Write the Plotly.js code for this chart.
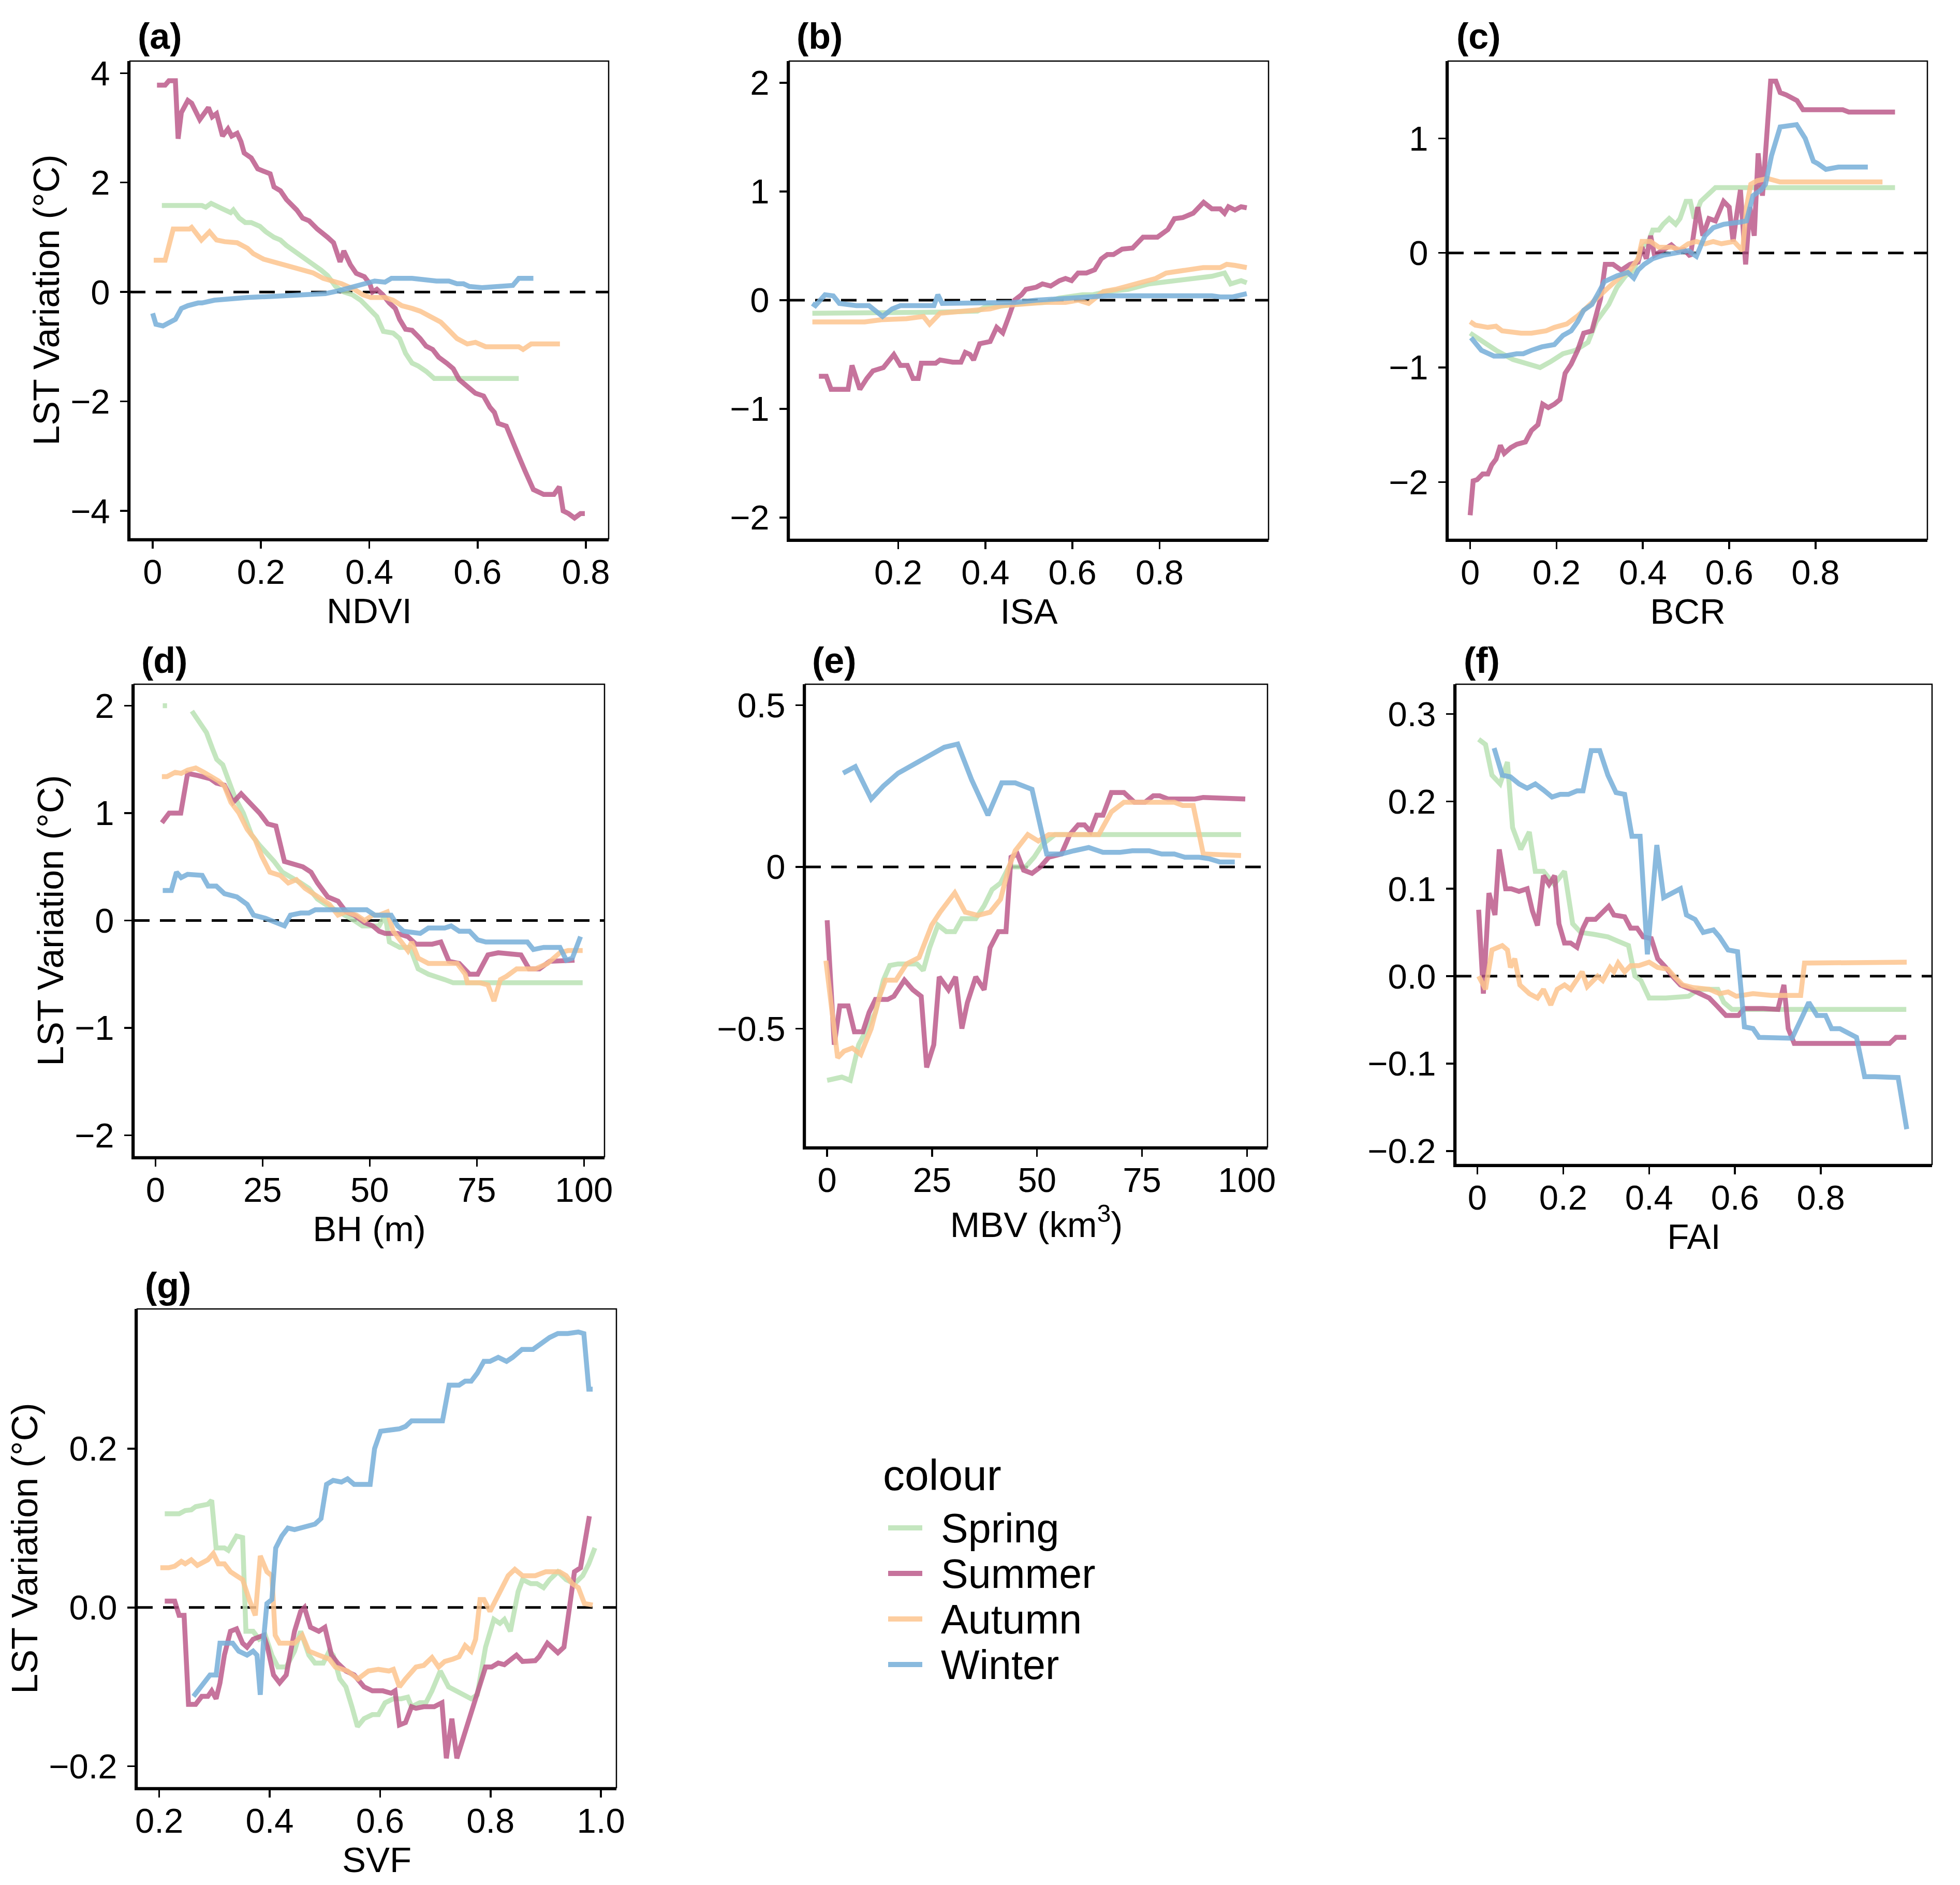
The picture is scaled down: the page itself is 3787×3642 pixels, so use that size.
<!DOCTYPE html>
<html>
<head>
<meta charset="utf-8">
<script src="https://cdn.plot.ly/plotly-3.0.1.min.js"></script>
<style>html,body{margin:0;padding:0;background:#fff;}#chart{width:3787px;height:3642px;}</style>
</head>
<body>
<div id="chart"></div>
<script>
// ---------------- DATA ----------------
const seasons = ["Spring", "Summer", "Autumn", "Winter"];

// (a) NDVI
const ndviSpringX = [0.017,0.091,0.098,0.108,0.129,0.144,0.149,0.16,0.171,0.182,0.198,0.209,0.224,0.236,0.247,0.262,0.277,0.296,0.311,0.323,0.338,0.353,0.369,0.384,0.403,0.414,0.426,0.444,0.456,0.467,0.479,0.49,0.505,0.52,0.676];
const ndviSpringY = [1.58,1.58,1.55,1.62,1.52,1.45,1.5,1.35,1.27,1.27,1.2,1.1,1.0,0.95,0.85,0.75,0.65,0.5,0.4,0.3,0.1,0,-0.05,-0.15,-0.35,-0.45,-0.72,-0.75,-0.85,-1.12,-1.3,-1.35,-1.45,-1.58,-1.58];
const ndviSummerX = [0.008,0.023,0.03,0.042,0.047,0.053,0.065,0.072,0.087,0.103,0.11,0.118,0.129,0.139,0.146,0.156,0.163,0.169,0.182,0.194,0.217,0.224,0.236,0.247,0.266,0.277,0.289,0.304,0.323,0.334,0.346,0.353,0.365,0.376,0.391,0.401,0.406,0.414,0.425,0.437,0.448,0.456,0.467,0.479,0.494,0.505,0.517,0.528,0.543,0.555,0.566,0.577,0.596,0.611,0.623,0.631,0.638,0.653,0.665,0.676,0.688,0.703,0.722,0.741,0.751,0.758,0.768,0.779,0.79,0.798];
const ndviSummerY = [3.78,3.78,3.86,3.86,2.8,3.28,3.5,3.45,3.15,3.37,3.2,3.26,2.85,2.98,2.85,2.9,2.75,2.54,2.45,2.25,2.16,1.92,1.85,1.69,1.5,1.35,1.3,1.15,1.0,0.9,0.55,0.75,0.5,0.34,0.28,0.15,0.0,0.05,-0.05,-0.2,-0.3,-0.5,-0.68,-0.7,-0.85,-0.99,-1.05,-1.19,-1.3,-1.4,-1.6,-1.7,-1.85,-1.9,-2.11,-2.2,-2.4,-2.45,-2.77,-3.0,-3.28,-3.61,-3.7,-3.7,-3.56,-4.0,-4.05,-4.13,-4.05,-4.05];
const ndviAutumnX = [0.002,0.023,0.038,0.068,0.072,0.09,0.105,0.118,0.133,0.156,0.175,0.186,0.205,0.224,0.243,0.258,0.281,0.296,0.315,0.334,0.349,0.372,0.388,0.403,0.429,0.444,0.46,0.479,0.494,0.513,0.532,0.547,0.562,0.581,0.596,0.615,0.676,0.684,0.699,0.752];
const ndviAutumnY = [0.58,0.58,1.15,1.15,1.18,0.95,1.1,0.95,0.92,0.9,0.8,0.7,0.6,0.55,0.5,0.45,0.4,0.35,0.25,0.2,0.15,0.05,-0.05,-0.1,-0.1,-0.15,-0.25,-0.3,-0.35,-0.45,-0.55,-0.7,-0.85,-0.95,-0.92,-1.0,-1.0,-1.05,-0.95,-0.95];
const ndviWinterX = [0,0.006,0.019,0.032,0.042,0.053,0.065,0.084,0.091,0.114,0.144,0.175,0.22,0.281,0.319,0.342,0.365,0.388,0.41,0.429,0.441,0.479,0.524,0.547,0.562,0.574,0.585,0.608,0.638,0.665,0.676,0.703];
const ndviWinterY = [-0.39,-0.59,-0.62,-0.55,-0.5,-0.3,-0.25,-0.2,-0.2,-0.15,-0.12,-0.1,-0.08,-0.05,-0.03,0.02,0.08,0.15,0.2,0.18,0.25,0.25,0.2,0.2,0.15,0.15,0.1,0.08,0.1,0.12,0.25,0.25];

// (b) ISA
const isaSpringX = [0.003,0.2,0.296,0.382,0.406,0.421,0.488,0.536,0.57,0.623,0.647,0.68,0.728,0.776,0.834,0.891,0.92,0.949,0.963,0.987,1.0];
const isaSpringY = [-0.12,-0.12,-0.11,-0.1,-0.05,-0.06,-0.03,-0.02,0.02,0.05,0.05,0.08,0.1,0.15,0.18,0.2,0.22,0.25,0.15,0.18,0.16];
const isaSummerX = [0.018,0.035,0.046,0.085,0.094,0.112,0.128,0.142,0.166,0.19,0.205,0.221,0.234,0.246,0.253,0.286,0.296,0.325,0.344,0.354,0.365,0.373,0.387,0.411,0.426,0.44,0.454,0.467,0.483,0.493,0.517,0.531,0.55,0.57,0.584,0.598,0.613,0.632,0.651,0.666,0.68,0.694,0.714,0.738,0.762,0.795,0.819,0.834,0.853,0.877,0.901,0.92,0.939,0.949,0.958,0.973,0.987,1.0];
const isaSummerY = [-0.7,-0.7,-0.82,-0.82,-0.6,-0.82,-0.72,-0.65,-0.62,-0.5,-0.6,-0.6,-0.72,-0.72,-0.58,-0.58,-0.55,-0.57,-0.57,-0.48,-0.5,-0.55,-0.4,-0.38,-0.25,-0.3,-0.15,0.0,0.05,0.1,0.12,0.15,0.13,0.18,0.2,0.18,0.25,0.25,0.28,0.38,0.42,0.42,0.47,0.48,0.58,0.58,0.65,0.75,0.76,0.8,0.9,0.84,0.84,0.8,0.86,0.83,0.86,0.85];
const isaAutumnX = [0.003,0.123,0.161,0.219,0.258,0.272,0.296,0.354,0.382,0.411,0.44,0.488,0.536,0.584,0.613,0.637,0.671,0.699,0.747,0.791,0.815,0.853,0.9,0.939,0.954,0.973,1.0];
const isaAutumnY = [-0.2,-0.2,-0.18,-0.17,-0.15,-0.22,-0.12,-0.1,-0.1,-0.08,-0.05,-0.03,-0.02,-0.02,0.0,-0.03,0.08,0.1,0.15,0.2,0.25,0.27,0.3,0.3,0.33,0.32,0.3];
const isaWinterX = [0.003,0.01,0.032,0.051,0.065,0.104,0.133,0.157,0.164,0.186,0.205,0.282,0.291,0.301,0.392,0.469,0.517,0.584,0.642,0.68,0.92,0.939,0.968,1.0];
const isaWinterY = [-0.03,-0.05,0.05,0.04,-0.03,-0.05,-0.05,-0.12,-0.15,-0.08,-0.05,-0.05,0.05,-0.03,-0.03,-0.02,0.0,0.02,0.03,0.04,0.04,0.03,0.03,0.06];

// (c) BCR
const bcrSpringX = [0,0.021,0.06,0.099,0.137,0.162,0.186,0.215,0.244,0.273,0.292,0.321,0.34,0.36,0.379,0.389,0.398,0.413,0.423,0.437,0.447,0.461,0.476,0.486,0.5,0.51,0.519,0.534,0.548,0.568,0.984];
const bcrSpringY = [-0.7,-0.75,-0.85,-0.93,-0.97,-1.0,-0.95,-0.88,-0.85,-0.78,-0.6,-0.45,-0.3,-0.2,-0.15,-0.05,0.05,0.1,0.2,0.2,0.25,0.3,0.25,0.3,0.45,0.45,0.3,0.45,0.5,0.57,0.57];
const bcrSummerX = [0,0.007,0.016,0.029,0.041,0.05,0.06,0.07,0.079,0.094,0.108,0.128,0.142,0.157,0.168,0.181,0.195,0.208,0.22,0.234,0.249,0.263,0.282,0.292,0.302,0.313,0.331,0.35,0.37,0.389,0.398,0.408,0.418,0.427,0.447,0.466,0.481,0.495,0.51,0.527,0.539,0.553,0.568,0.587,0.6,0.609,0.616,0.626,0.638,0.648,0.658,0.667,0.677,0.684,0.696,0.708,0.718,0.732,0.747,0.757,0.771,0.863,0.877,0.984];
const bcrSummerY = [-2.29,-1.99,-1.98,-1.93,-1.93,-1.85,-1.8,-1.68,-1.75,-1.7,-1.67,-1.65,-1.55,-1.5,-1.32,-1.35,-1.32,-1.28,-1.05,-0.97,-0.85,-0.7,-0.68,-0.55,-0.4,-0.1,-0.1,-0.15,-0.1,-0.08,0.05,-0.05,0.15,-0.02,0.02,0.07,0.02,0.03,-0.03,0.4,0.15,0.3,0.28,0.45,0.4,0.1,0.3,0.55,-0.1,0.4,0.15,0.87,0.5,0.9,1.5,1.5,1.4,1.38,1.35,1.33,1.25,1.25,1.23,1.23];
const bcrAutumnX = [0,0.012,0.041,0.06,0.074,0.118,0.142,0.176,0.195,0.224,0.249,0.268,0.292,0.321,0.35,0.37,0.389,0.398,0.418,0.437,0.466,0.486,0.505,0.524,0.544,0.563,0.582,0.611,0.631,0.64,0.65,0.664,0.689,0.718,0.955];
const bcrAutumnY = [-0.6,-0.63,-0.65,-0.64,-0.68,-0.7,-0.7,-0.68,-0.65,-0.62,-0.55,-0.48,-0.4,-0.3,-0.2,-0.15,-0.05,0.1,0.1,0.05,0.05,0.03,0.08,0.1,0.08,0.1,0.08,0.1,0.02,0.4,0.6,0.63,0.65,0.62,0.62];
const bcrWinterX = [0.002,0.012,0.026,0.055,0.079,0.108,0.123,0.142,0.166,0.195,0.215,0.234,0.249,0.263,0.282,0.297,0.311,0.34,0.365,0.379,0.389,0.403,0.423,0.447,0.476,0.505,0.524,0.544,0.563,0.587,0.626,0.64,0.655,0.674,0.684,0.698,0.718,0.756,0.776,0.795,0.805,0.824,0.853,0.921];
const bcrWinterY = [-0.74,-0.78,-0.85,-0.9,-0.9,-0.88,-0.88,-0.85,-0.82,-0.8,-0.72,-0.68,-0.6,-0.5,-0.45,-0.35,-0.25,-0.2,-0.17,-0.22,-0.15,-0.1,-0.05,-0.02,0.0,0.02,-0.03,0.15,0.22,0.25,0.27,0.28,0.5,0.55,0.6,0.85,1.1,1.12,1.0,0.8,0.78,0.73,0.75,0.75];

// (d) BH (m)
const bhSpringX = [1.7,2.7,5.5,8.5,10.9,11.9,13.3,14.3,15.7,17.1,18.5,20.5,22.4,24.3,26.2,27.7,29.6,32,33.9,35.8,37.8,39.7,42.1,44.5,46.4,48.3,52.2,53.6,54.6,57,59.4,61.3,63.7,67.5,69.5,99.7];
const bhSpringY = [2.0,2.0,null,1.95,1.8,1.75,1.6,1.5,1.45,1.3,1.15,1.0,0.8,0.7,0.62,0.55,0.45,0.4,0.35,0.3,0.2,0.15,0.1,0.05,0.0,-0.05,-0.05,0.05,-0.2,-0.25,-0.25,-0.45,-0.5,-0.55,-0.58,-0.58];
const bhSummerX = [1.5,3.2,5.9,7.5,9.9,12.8,14.2,16.1,18.1,20,21.9,24.3,26.2,28.1,30.1,32.5,34.4,36.3,37.8,40.2,42.6,44.5,46.4,48.8,50.7,52.2,53.6,56.5,58.9,60.8,64.6,66.6,68.5,70.9,73.3,75.2,77.6,80,85.3,87.2,89.6,92,95.4,97.8];
const bhSummerY = [0.91,1.0,1.0,1.37,1.35,1.32,1.28,1.26,1.1,1.18,1.1,1.0,0.9,0.88,0.55,0.52,0.5,0.45,0.35,0.22,0.18,0.08,0.05,-0.02,-0.05,-0.1,-0.12,-0.12,-0.15,-0.22,-0.22,-0.2,-0.38,-0.4,-0.5,-0.5,-0.32,-0.3,-0.32,-0.45,-0.45,-0.38,-0.37,-0.37];
const bhAutumnX = [1.5,2.7,4.6,6,7.5,9.4,11.3,12.8,14.7,16.1,17.6,19.5,21.4,23.3,24.8,26.7,29.1,31,32.9,34.9,36.8,38.7,40.6,42.6,44.5,46.9,48.8,50.7,52.2,54.1,55.5,57.4,58.9,59.8,61.3,63.7,70.4,72.3,72.8,75.7,77.6,79,80.5,81.9,84.3,88.7,91.5,94.4,96.3,99.7];
const bhAutumnY = [1.34,1.34,1.38,1.37,1.4,1.42,1.38,1.35,1.3,1.25,1.1,1.0,0.85,0.75,0.6,0.45,0.42,0.35,0.38,0.3,0.25,0.2,0.15,0.05,0.08,0.05,0.0,0.05,0.05,0.08,-0.1,-0.2,-0.28,-0.2,-0.35,-0.4,-0.4,-0.5,-0.58,-0.58,-0.6,-0.75,-0.55,-0.52,-0.45,-0.45,-0.4,-0.3,-0.28,-0.28];
const bhWinterX = [1.7,3.7,4.9,6,7.5,10.9,12.3,14.2,16.1,19,21.4,22.9,25.7,27.2,28.6,30.1,31.5,33.9,35.8,37.3,43.5,49.3,51.2,55,56.5,57.9,61.8,63.7,67.5,69,70.9,73.3,75.2,77.1,86.8,88.2,90.6,94.4,95.9,97.3,99.2];
const bhWinterY = [0.28,0.28,0.45,0.4,0.43,0.42,0.32,0.32,0.25,0.22,0.15,0.05,0.02,0.0,-0.02,-0.05,0.05,0.07,0.07,0.1,0.1,0.1,0.05,0.05,-0.05,-0.1,-0.12,-0.07,-0.07,-0.05,-0.1,-0.1,-0.18,-0.2,-0.2,-0.27,-0.25,-0.25,-0.37,-0.35,-0.15];

// (e) MBV (km^3)
const mbvSpringX = [0,3.5,5.5,7.5,9.5,11.5,13.4,14.9,16.9,19.4,21.4,22.9,24.4,26.4,28.4,30.4,32.1,35.4,37.4,39.3,41.3,43.3,47.3,49.3,51.3,54.3,98.6];
const mbvSpringY = [-0.66,-0.65,-0.66,-0.55,-0.5,-0.45,-0.35,-0.305,-0.3,-0.3,-0.3,-0.32,-0.25,-0.18,-0.2,-0.2,-0.16,-0.16,-0.12,-0.07,-0.05,0.0,0.0,0.03,0.07,0.1,0.1];
const mbvSummerX = [0,1.7,3,5,6.5,8.5,10,11.5,14.4,15.9,18.4,20.4,22.4,23.7,25.4,26.7,28.9,30.6,32.1,33.4,35.4,37.4,38.8,40.8,42.6,43.8,45.3,46.8,48.8,50.8,52.8,55.8,57.8,59.8,61.3,62.7,64.2,65.7,67.7,70.7,73.2,75.7,77.7,79.2,81.2,87.6,89.6,99.6];
const mbvSummerY = [-0.165,-0.55,-0.43,-0.43,-0.51,-0.51,-0.45,-0.41,-0.41,-0.4,-0.35,-0.38,-0.4,-0.62,-0.55,-0.34,-0.38,-0.34,-0.5,-0.42,-0.34,-0.38,-0.25,-0.2,-0.2,0.03,0.04,-0.01,-0.02,0.0,0.03,0.04,0.1,0.13,0.13,0.11,0.16,0.16,0.23,0.23,0.2,0.2,0.22,0.22,0.21,0.21,0.215,0.21];
const mbvAutumnX = [-0.3,2.5,4,6,8,10.5,12.5,13.9,16.4,18.9,21.9,24.9,26.9,30.4,32.9,35.9,38.8,41.3,43.3,44.8,47.8,50.3,52.8,64.7,67.7,70.7,82.7,84.7,87.2,89.6,98.6];
const mbvAutumnY = [-0.29,-0.59,-0.57,-0.56,-0.58,-0.5,-0.4,-0.35,-0.35,-0.3,-0.28,-0.18,-0.14,-0.08,-0.14,-0.15,-0.14,-0.1,0.0,0.05,0.1,0.08,0.1,0.1,0.17,0.2,0.2,0.19,0.19,0.04,0.035];
const mbvWinterX = [3.8,6.7,10.5,13.4,16.9,20.9,24.9,27.9,31.1,34.4,38.3,41.6,44.8,48.8,52.3,55.8,58.8,62.3,65.7,69.7,72.7,76.7,79.7,82.7,85.2,88.6,91.1,93.6,97.1];
const mbvWinterY = [0.29,0.31,0.21,0.25,0.29,0.32,0.35,0.37,0.38,0.27,0.16,0.26,0.26,0.24,0.04,0.04,0.05,0.06,0.045,0.045,0.05,0.05,0.04,0.04,0.03,0.03,0.025,0.015,0.015];

// (f) FAI
const faiSpringX = [0.003,0.019,0.034,0.053,0.07,0.082,0.101,0.121,0.135,0.154,0.179,0.203,0.222,0.241,0.27,0.304,0.328,0.352,0.367,0.381,0.4,0.439,0.492,0.516,0.56,0.574,0.593,0.999];
const faiSpringY = [0.271,0.265,0.23,0.22,0.245,0.17,0.145,0.165,0.12,0.12,0.105,0.12,0.06,0.05,0.048,0.045,0.04,0.035,0.0,-0.005,-0.025,-0.025,-0.023,-0.015,-0.015,-0.03,-0.038,-0.038];
const faiSummerX = [0.003,0.014,0.027,0.041,0.051,0.066,0.079,0.097,0.116,0.128,0.14,0.154,0.167,0.18,0.19,0.203,0.217,0.232,0.246,0.256,0.275,0.294,0.306,0.318,0.343,0.357,0.372,0.386,0.405,0.42,0.439,0.454,0.473,0.497,0.521,0.54,0.56,0.579,0.608,0.622,0.666,0.7,0.714,0.724,0.738,0.96,0.975,0.999];
const faiSummerY = [0.076,-0.02,0.095,0.07,0.145,0.1,0.1,0.097,0.1,0.075,0.058,0.115,0.105,0.115,0.06,0.038,0.038,0.033,0.055,0.065,0.065,0.075,0.08,0.07,0.068,0.055,0.055,0.045,0.043,0.02,0.01,0.0,-0.01,-0.015,-0.02,-0.025,-0.035,-0.045,-0.045,-0.037,-0.037,-0.038,-0.01,-0.06,-0.077,-0.077,-0.07,-0.07];
const faiAutumnX = [0.003,0.019,0.034,0.058,0.07,0.077,0.087,0.099,0.121,0.14,0.154,0.171,0.186,0.203,0.217,0.244,0.256,0.28,0.292,0.309,0.318,0.328,0.343,0.357,0.376,0.4,0.42,0.444,0.458,0.478,0.502,0.54,0.564,0.584,0.603,0.642,0.685,0.753,0.762,0.854,1.0];
const faiAutumnY = [0.0,-0.015,0.03,0.035,0.03,0.01,0.02,-0.01,-0.02,-0.025,-0.015,-0.033,-0.015,-0.01,-0.015,0.005,-0.012,0.0,-0.005,0.01,0.005,0.015,0.005,0.012,0.012,0.016,0.01,0.008,0.0,-0.01,-0.013,-0.015,-0.02,-0.018,-0.023,-0.02,-0.022,-0.022,0.015,0.015,0.016];
const faiWinterX = [0.039,0.058,0.077,0.097,0.116,0.135,0.154,0.174,0.193,0.212,0.232,0.246,0.265,0.285,0.304,0.323,0.343,0.36,0.379,0.396,0.418,0.434,0.473,0.487,0.507,0.526,0.55,0.564,0.584,0.606,0.622,0.642,0.656,0.695,0.733,0.758,0.772,0.791,0.811,0.825,0.844,0.883,0.902,0.926,0.98,1.0];
const faiWinterY = [0.261,0.23,0.228,0.22,0.215,0.22,0.213,0.205,0.208,0.208,0.212,0.212,0.258,0.258,0.23,0.21,0.208,0.16,0.16,0.025,0.15,0.09,0.1,0.07,0.065,0.05,0.053,0.045,0.03,0.028,-0.058,-0.06,-0.07,-0.07,-0.071,-0.045,-0.03,-0.045,-0.045,-0.06,-0.06,-0.07,-0.115,-0.115,-0.116,-0.175];

// (g) SVF
const svfSpringX = [0.21,0.236,0.247,0.258,0.266,0.288,0.295,0.303,0.318,0.325,0.34,0.351,0.357,0.37,0.381,0.392,0.404,0.415,0.43,0.445,0.456,0.471,0.482,0.497,0.508,0.515,0.527,0.538,0.549,0.559,0.571,0.586,0.597,0.609,0.624,0.638,0.65,0.657,0.672,0.683,0.694,0.709,0.724,0.739,0.754,0.765,0.776,0.791,0.806,0.817,0.825,0.836,0.85,0.858,0.873,0.884,0.896,0.907,0.922,0.937,0.952,0.967,0.978,0.989];
const svfSpringY = [0.118,0.118,0.122,0.123,0.127,0.13,0.135,0.075,0.075,0.072,0.09,0.088,-0.03,-0.03,-0.04,-0.035,-0.06,-0.075,-0.075,-0.055,-0.03,-0.06,-0.07,-0.07,-0.055,-0.06,-0.09,-0.1,-0.125,-0.15,-0.14,-0.135,-0.135,-0.12,-0.115,-0.115,-0.113,-0.125,-0.12,-0.12,-0.105,-0.08,-0.1,-0.105,-0.11,-0.115,-0.11,-0.05,-0.015,-0.02,-0.015,-0.03,0.02,0.035,0.03,0.03,0.025,0.035,0.045,0.035,0.03,0.04,0.055,0.075];
const svfSummerX = [0.21,0.228,0.236,0.245,0.253,0.266,0.277,0.288,0.295,0.303,0.31,0.318,0.329,0.34,0.351,0.359,0.37,0.389,0.396,0.407,0.418,0.43,0.445,0.456,0.463,0.474,0.489,0.5,0.512,0.523,0.538,0.553,0.571,0.586,0.605,0.62,0.627,0.635,0.646,0.657,0.665,0.679,0.698,0.712,0.72,0.73,0.739,0.75,0.761,0.776,0.791,0.802,0.814,0.825,0.836,0.847,0.858,0.881,0.888,0.903,0.911,0.922,0.933,0.943,0.952,0.963,0.97,0.979];
const svfSummerY = [0.008,0.008,-0.01,-0.01,-0.122,-0.122,-0.112,-0.112,-0.105,-0.115,-0.095,-0.06,-0.03,-0.027,-0.045,-0.05,-0.04,-0.035,-0.05,-0.085,-0.095,-0.085,-0.03,-0.005,0.0,-0.025,-0.03,-0.025,-0.06,-0.07,-0.08,-0.085,-0.1,-0.105,-0.105,-0.108,-0.105,-0.148,-0.145,-0.125,-0.127,-0.125,-0.125,-0.12,-0.19,-0.14,-0.19,-0.165,-0.145,-0.11,-0.075,-0.075,-0.07,-0.072,-0.065,-0.06,-0.068,-0.067,-0.062,-0.045,-0.05,-0.057,-0.05,0.0,0.045,0.05,0.08,0.115];
const svfAutumnX = [0.202,0.217,0.228,0.24,0.247,0.258,0.269,0.281,0.288,0.298,0.307,0.318,0.329,0.34,0.351,0.363,0.374,0.383,0.395,0.404,0.41,0.418,0.433,0.445,0.459,0.471,0.489,0.508,0.519,0.541,0.56,0.579,0.597,0.616,0.624,0.635,0.646,0.665,0.679,0.694,0.706,0.717,0.732,0.743,0.754,0.765,0.773,0.781,0.788,0.799,0.81,0.821,0.832,0.844,0.858,0.881,0.9,0.925,0.937,0.948,0.959,0.97,0.985];
const svfAutumnY = [0.05,0.05,0.052,0.058,0.055,0.06,0.053,0.058,0.06,0.068,0.055,0.055,0.045,0.04,0.035,0.01,-0.01,0.065,0.045,0.04,-0.035,-0.045,-0.045,-0.045,-0.035,-0.055,-0.06,-0.065,-0.075,-0.08,-0.09,-0.08,-0.078,-0.08,-0.078,-0.1,-0.09,-0.075,-0.073,-0.063,-0.075,-0.068,-0.065,-0.062,-0.048,-0.055,-0.04,0.01,0.01,-0.005,0.01,0.025,0.04,0.048,0.04,0.04,0.045,0.045,0.04,0.03,0.025,0.005,0.003];
const svfWinterX = [0.262,0.281,0.292,0.303,0.31,0.333,0.344,0.359,0.37,0.377,0.383,0.389,0.395,0.404,0.411,0.422,0.433,0.445,0.456,0.482,0.493,0.503,0.515,0.53,0.541,0.553,0.582,0.59,0.601,0.635,0.646,0.657,0.713,0.725,0.743,0.754,0.765,0.776,0.788,0.799,0.814,0.829,0.84,0.857,0.877,0.896,0.907,0.922,0.94,0.959,0.969,0.978,0.985];
const svfWinterY = [-0.112,-0.095,-0.085,-0.085,-0.045,-0.045,-0.055,-0.06,-0.055,-0.06,-0.11,-0.04,0.005,0.01,0.075,0.09,0.1,0.098,0.1,0.105,0.112,0.155,0.16,0.158,0.162,0.155,0.155,0.2,0.222,0.225,0.228,0.235,0.235,0.28,0.28,0.285,0.285,0.295,0.31,0.31,0.315,0.31,0.315,0.325,0.325,0.335,0.34,0.345,0.345,0.347,0.345,0.275,0.275];

// axis labels / ticks
const panelTags = ["(a)", "(b)", "(c)", "(d)", "(e)", "(f)", "(g)"];
const xTitles = ["NDVI", "ISA", "BCR", "BH (m)", "MBV (km<sup>3</sup>)", "FAI", "SVF"];
const yTitle = "LST Variation (°C)";
const legendTitle = "colour";
const xTickVals = [[0,0.2,0.4,0.6,0.8],[0.2,0.4,0.6,0.8],[0,0.2,0.4,0.6,0.8],[0,25,50,75,100],[0,25,50,75,100],[0,0.2,0.4,0.6,0.8],[0.2,0.4,0.6,0.8,1.0]];
const yTickVals = [[-4,-2,0,2,4],[-2,-1,0,1,2],[-2,-1,0,1],[-2,-1,0,1,2],[-0.5,0,0.5],[-0.2,-0.1,0,0.1,0.2,0.3],[-0.2,0,0.2]];

// ---------------- STYLE / LAYOUT ----------------
const FONT = "Liberation Sans, Arial, Helvetica, sans-serif";
const W = 3787, H = 3642;
const colors = ["rgba(186,226,180,0.85)", "rgba(186,84,134,0.82)", "rgba(253,196,142,0.85)", "rgba(118,174,216,0.85)"];

const panelSeries = [
  [[ndviSpringX,ndviSpringY],[ndviSummerX,ndviSummerY],[ndviAutumnX,ndviAutumnY],[ndviWinterX,ndviWinterY]],
  [[isaSpringX,isaSpringY],[isaSummerX,isaSummerY],[isaAutumnX,isaAutumnY],[isaWinterX,isaWinterY]],
  [[bcrSpringX,bcrSpringY],[bcrSummerX,bcrSummerY],[bcrAutumnX,bcrAutumnY],[bcrWinterX,bcrWinterY]],
  [[bhSpringX,bhSpringY],[bhSummerX,bhSummerY],[bhAutumnX,bhAutumnY],[bhWinterX,bhWinterY]],
  [[mbvSpringX,mbvSpringY],[mbvSummerX,mbvSummerY],[mbvAutumnX,mbvAutumnY],[mbvWinterX,mbvWinterY]],
  [[faiSpringX,faiSpringY],[faiSummerX,faiSummerY],[faiAutumnX,faiAutumnY],[faiWinterX,faiWinterY]],
  [[svfSpringX,svfSpringY],[svfSummerX,svfSummerY],[svfAutumnX,svfAutumnY],[svfWinterX,svfWinterY]]
];

// geometry (pixels in the 3787x3642 figure): [left, right, top, bottom]
const boxes = [
  [251, 1176, 118, 1041],
  [1525, 2451, 118, 1042],
  [2798, 3724, 118, 1042],
  [259, 1168, 1322, 2235],
  [1556, 2449, 1322, 2216],
  [2813, 3733, 1322, 2250],
  [265, 1191, 2529, 3454]
];
const xRanges = [[-0.042,0.842],[-0.05,1.05],[-0.051,1.059],[-5,104.8],[-5.2,104.9],[-0.05,1.059],[0.16,1.028]];
const yRanges = [[-4.51,4.22],[-2.2,2.2],[-2.5,1.675],[-2.2,2.2],[-0.866,0.565],[-0.2155,0.334],[-0.227,0.376]];
const yFormats = ["", "", "", "", "", ".1f", ".1f"];
const xFormats = ["", "", "", "", "", "", ".1f"];
const tagPos = [[264,70],[1537,70],[2812,70],[271,1276],[1567,1276],[2826,1276],[278,2484]];
const showYTitle = [true,false,false,true,false,false,true];

const traces = [];
const layout = {
  width: W, height: H,
  margin: {l:0, r:0, t:0, b:0},
  paper_bgcolor: "#fff", plot_bgcolor: "#fff",
  showlegend: false,
  font: {family: FONT, color: "#000"},
  shapes: [], annotations: []
};

panelSeries.forEach((series, i) => {
  const n = i + 1;
  const xa = "x" + (n === 1 ? "" : n), ya = "y" + (n === 1 ? "" : n);
  const b = boxes[i];
  series.forEach((s, k) => {
    traces.push({
      type: "scatter", mode: "lines", x: s[0], y: s[1],
      xaxis: xa, yaxis: ya, name: seasons[k],
      line: {color: colors[k], width: 9.5},
      connectgaps: false, hoverinfo: "skip"
    });
  });
  const axBase = {
    showgrid: false, zeroline: false, showline: true, linewidth: 5, linecolor: "#000",
    ticks: "outside", ticklen: 14, tickwidth: 3.5, tickcolor: "#000",
    tickfont: {size: 67, family: FONT, color: "#000"}, fixedrange: true
  };
  layout["xaxis" + (n === 1 ? "" : n)] = Object.assign({}, axBase, {
    domain: [b[0] / W, b[1] / W], anchor: ya, range: xRanges[i],
    tickmode: "array", tickvals: xTickVals[i], tickformat: xFormats[i],
    ticklabelstandoff: -12,
    title: {text: xTitles[i], font: {size: 69, family: FONT, color: "#000"}, standoff: 4}
  });
  const yax = Object.assign({}, axBase, {
    domain: [1 - b[3] / H, 1 - b[2] / H], anchor: xa, range: yRanges[i],
    tickmode: "array", tickvals: yTickVals[i], tickformat: yFormats[i],
    ticklabelstandoff: 6
  });
  if (showYTitle[i]) {
    yax.title = {text: yTitle, font: {size: 70, family: FONT, color: "#000"}, standoff: 0};
  }
  layout["yaxis" + (n === 1 ? "" : n)] = yax;
  // panel border
  layout.shapes.push({type: "rect", xref: xa + " domain", yref: ya + " domain", x0: 0, x1: 1, y0: 0, y1: 1,
    line: {color: "#000", width: 2.5}, fillcolor: "rgba(0,0,0,0)", layer: "above"});
  // dashed zero reference line
  layout.shapes.push({type: "line", xref: xa + " domain", yref: ya, x0: 0, x1: 1, y0: 0, y1: 0,
    line: {color: "#000", width: 5, dash: "30px,20px"}, layer: "below"});
  // panel tag
  layout.annotations.push({text: "<b>" + panelTags[i] + "</b>", xref: "paper", yref: "paper",
    x: tagPos[i][0] / W, y: 1 - tagPos[i][1] / H, xanchor: "left", yanchor: "middle",
    showarrow: false, font: {size: 70, family: FONT, color: "#000"}});
});

// legend (drawn at the empty grid cell)
layout.annotations.push({text: legendTitle, xref: "paper", yref: "paper", x: 1704 / W, y: 1 - 2850 / H,
  xanchor: "left", yanchor: "middle", showarrow: false,
  font: {size: 84, family: FONT, color: "#000"}});
const legY = [2952, 3040, 3128, 3216];
seasons.forEach((s, k) => {
  layout.shapes.push({type: "line", xref: "paper", yref: "paper", x0: 1716 / W, x1: 1782 / W,
    y0: 1 - legY[k] / H, y1: 1 - legY[k] / H, line: {color: colors[k], width: 10}});
  layout.annotations.push({text: s, xref: "paper", yref: "paper", x: 1816 / W, y: 1 - legY[k] / H,
    xanchor: "left", yanchor: "middle", showarrow: false,
    font: {size: 79, family: FONT, color: "#000"}});
});

Plotly.newPlot("chart", traces, layout, {displayModeBar: false, staticPlot: true}).then(() => {
  // drop empty placeholder text nodes and Plotly's hidden measuring svg
  document.querySelectorAll("text").forEach(t => {
    if (!t.textContent || !t.textContent.trim()) t.remove();
  });
  const tester = document.getElementById("js-plotly-tester");
  if (tester) tester.remove();
});
</script>
</body>
</html>
